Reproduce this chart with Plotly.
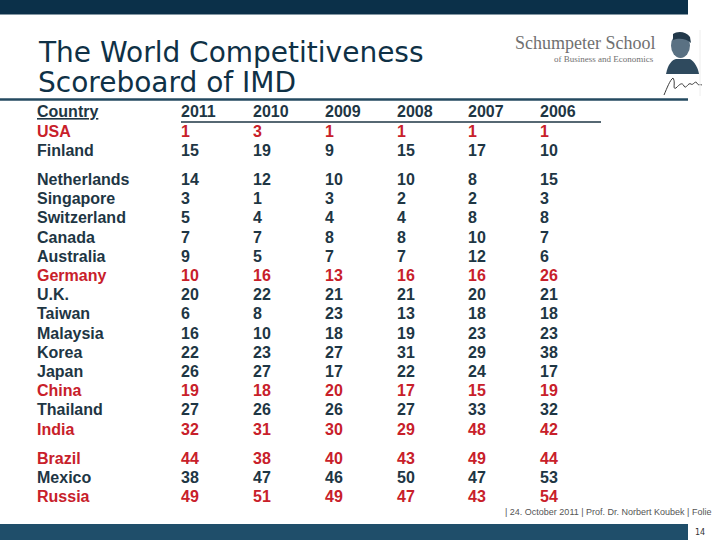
import plotly.graph_objects as go

# ---------------- data ----------------
title_lines = ["The World Competitiveness", "Scoreboard of IMD"]
years = ["2011", "2010", "2009", "2008", "2007", "2006"]
countries = ["USA", "Finland",
             "Netherlands", "Singapore", "Switzerland", "Canada", "Australia",
             "Germany", "U.K.", "Taiwan", "Malaysia", "Korea", "Japan", "China",
             "Thailand", "India",
             "Brazil", "Mexico", "Russia"]
group = [0, 0,
         1, 1, 1, 1, 1, 1, 1, 1, 1, 1, 1, 1, 1, 1,
         2, 2, 2]
highlight = ["USA", "Germany", "China", "India", "Brazil", "Russia"]
rank_2011 = [1, 15, 14, 3, 5, 7, 9, 10, 20, 6, 16, 22, 26, 19, 27, 32, 44, 38, 49]
rank_2010 = [3, 19, 12, 1, 4, 7, 5, 16, 22, 8, 10, 23, 27, 18, 26, 31, 38, 47, 51]
rank_2009 = [1, 9, 10, 3, 4, 8, 7, 13, 21, 23, 18, 27, 17, 20, 26, 30, 40, 46, 49]
rank_2008 = [1, 15, 10, 2, 4, 8, 7, 16, 21, 13, 19, 31, 22, 17, 27, 29, 43, 50, 47]
rank_2007 = [1, 17, 8, 2, 8, 10, 12, 16, 20, 18, 23, 29, 24, 15, 33, 48, 49, 47, 43]
rank_2006 = [1, 10, 15, 3, 8, 7, 6, 26, 21, 18, 23, 38, 17, 19, 32, 42, 44, 53, 54]
ranks = [rank_2011, rank_2010, rank_2009, rank_2008, rank_2007, rank_2006]
footer_text = "| 24. October 2011 | Prof. Dr. Norbert Koubek | Folie"
page_no = "14"

# ---------------- styles / layout ----------------
DARK = "#1e3644"
RED = "#c8202a"
NAVY = "#0b3049"
BAR2 = "#1f4e6a"
FONT = "Liberation Sans, Arial, sans-serif"

country_x = 37
col_x = [181, 253, 325, 397, 468, 540]
header_y = 113
row0_y = 132.8
row_h = 19.2
group_gap = 9.8

row_y = [row0_y + i * row_h + group[i] * group_gap for i in range(len(countries))]
colors = [RED if c in highlight else DARK for c in countries]

fig = go.Figure()

# country names
fig.add_trace(go.Scatter(
    x=[country_x] * len(countries), y=row_y, mode="text",
    text=[f"<b>{c}</b>" for c in countries],
    textposition="middle right", textfont=dict(family=FONT, size=16, color=colors),
    hoverinfo="skip", showlegend=False))

# rank columns
for j, yr in enumerate(years):
    fig.add_trace(go.Scatter(
        x=[col_x[j]] * len(countries), y=row_y, mode="text",
        text=[f"<b>{v}</b>" for v in ranks[j]],
        textposition="middle right", textfont=dict(family=FONT, size=16, color=colors),
        hoverinfo="skip", showlegend=False, name=yr))

# header row
fig.add_trace(go.Scatter(
    x=[country_x] + col_x, y=[header_y] * (len(years) + 1), mode="text",
    text=["<b><u>Country</u></b>"] + [f"<b>{y}</b>" for y in years],
    textposition="middle right", textfont=dict(family=FONT, size=16, color=DARK),
    hoverinfo="skip", showlegend=False))

shapes = [
    # top bar
    dict(type="rect", xref="x", yref="y", x0=0, x1=688, y0=0, y1=14.5,
         fillcolor=NAVY, line=dict(width=0), layer="below"),
    # line under title
    dict(type="line", xref="x", yref="y", x0=0, x1=688, y0=99.5, y1=99.5,
         line=dict(color="#244a60", width=2.5)),
    # header underline for year columns
    dict(type="line", xref="x", yref="y", x0=col_x[0], x1=col_x[-1] + 61,
         y0=122, y1=122, line=dict(color=DARK, width=1.5)),
    # bottom bar
    dict(type="rect", xref="x", yref="y", x0=0, x1=688, y0=524, y1=540,
         fillcolor=BAR2, line=dict(width=0), layer="below"),
    # portrait (rough silhouette)
    dict(type="path", xref="x", yref="y",
         path="M 666 74 C 668 64, 672 60, 676 59 L 690 59 C 695 62, 698 68, 699 74 Z",
         fillcolor="#2f4a5e", line=dict(width=0)),
    dict(type="circle", xref="x", yref="y", x0=671, x1=690, y0=33, y1=58,
         fillcolor="#5a7183", line=dict(width=0)),
    dict(type="path", xref="x", yref="y",
         path="M 673 34 C 677 31, 686 31, 690 37 L 691 43 C 686 38, 678 38, 673 40 Z",
         fillcolor="#22394a", line=dict(width=0)),
    # signature
    dict(type="path", xref="x", yref="y",
         path="M 664 95 C 667 88, 670 80, 673 78 C 676 82, 672 90, 676 88 "
              "C 680 84, 682 82, 684 86 C 686 90, 688 82, 691 84 C 693 86, 695 80, 697 83 "
              "C 698 86, 700 84, 702 85",
         line=dict(color="#3a3a3a", width=1)),
    # thin border right of logo
    dict(type="line", xref="x", yref="y", x0=700, x1=700, y0=30, y1=96,
         line=dict(color="#eeeeee", width=1)),
]

annotations = [
    dict(text=title_lines[0], x=36, y=71, xref="x", yref="y", xanchor="left",
         yanchor="bottom", showarrow=False,
         font=dict(family="DejaVu Sans, Verdana, sans-serif", size=28, color="#0f3146")),
    dict(text=title_lines[1], x=36, y=101, xref="x", yref="y", xanchor="left",
         yanchor="bottom", showarrow=False,
         font=dict(family="DejaVu Sans, Verdana, sans-serif", size=28, color="#0f3146")),
    dict(text="Schumpeter School", x=657, y=43, xref="x", yref="y", xanchor="right",
         yanchor="middle", showarrow=False,
         font=dict(family="Liberation Serif, serif", size=18, color="#707070")),
    dict(text="of Business and Economics", x=656, y=59, xref="x", yref="y", xanchor="right",
         yanchor="middle", showarrow=False,
         font=dict(family="Liberation Serif, serif", size=9, color="#707070")),
    dict(text=footer_text, x=503, y=512, xref="x", yref="y", xanchor="left",
         yanchor="middle", showarrow=False,
         font=dict(family="Liberation Sans, Arial, sans-serif", size=9, color="#555555")),
    dict(text=page_no, x=700, y=532, xref="x", yref="y", xanchor="center",
         yanchor="middle", showarrow=False,
         font=dict(family="DejaVu Sans, sans-serif", size=8, color="#333333")),
]

fig.update_layout(
    width=720, height=540, margin=dict(l=0, r=0, t=0, b=0),
    paper_bgcolor="white", plot_bgcolor="white",
    xaxis=dict(range=[0, 720], visible=False, fixedrange=True),
    yaxis=dict(range=[540, 0], visible=False, fixedrange=True),
    shapes=shapes, annotations=annotations, showlegend=False,
)

fig.write_html("out.html", config={"displayModeBar": False},
               post_script="document.body.style.margin='0';document.body.style.overflow='hidden';")
